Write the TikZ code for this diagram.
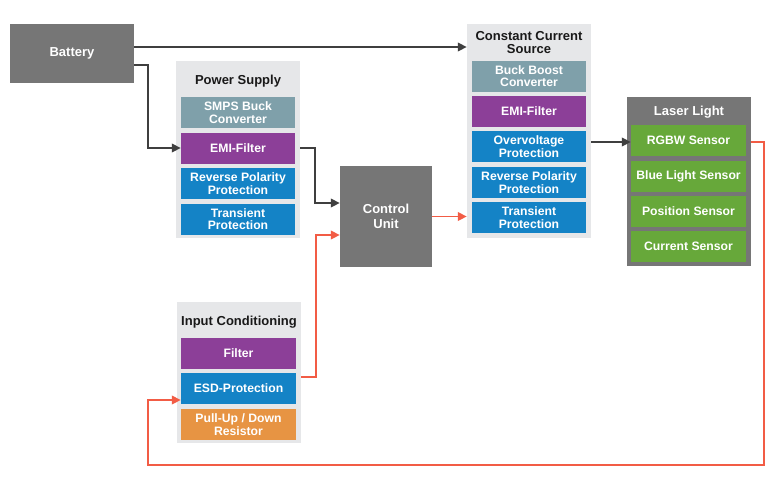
\documentclass[tikz,border=0pt]{standalone}
\usepackage{fontspec}
\setmainfont{Liberation Sans}
\usepackage{xcolor}
\usetikzlibrary{arrows.meta,positioning,calc}

\definecolor{boxgray}{HTML}{767676}
\definecolor{grpgray}{HTML}{E6E7E9}
\definecolor{steel}{HTML}{7FA0AA}
\definecolor{emipurple}{HTML}{8C3F98}
\definecolor{protblue}{HTML}{1483C6}
\definecolor{sensgreen}{HTML}{67A83A}
\definecolor{pullorange}{HTML}{E79443}
\definecolor{sigred}{HTML}{F25C45}
\definecolor{wiregray}{HTML}{3F3F3F}

\tikzset{
  blk/.style={fill=boxgray,text=white,inner sep=0pt,align=center,
    font=\bfseries\fontsize{13}{15}\selectfont},
  grp/.style={fill=grpgray,inner sep=0pt},
  grptitle/.style={font=\bfseries\fontsize{13}{13.5}\selectfont,text=black!90,align=center,inner sep=0pt},
  sub/.style={text=white,minimum width=114,minimum height=31,inner sep=0pt,align=center,
    font=\bfseries\fontsize{12.2}{12.5}\selectfont},
  pwr/.style={draw=wiregray,line width=1.8pt,-{Triangle[length=9pt,width=8.5pt]}},
  sig/.style={draw=sigred,line width=1.8pt,-{Triangle[length=9pt,width=8.5pt]}}
}

\begin{document}
\begin{tikzpicture}[x=1pt,y=-1pt]
\useasboundingbox[fill=white] (0,0) rectangle (773,490);
% main blocks
\node[blk,minimum width=124,minimum height=59] (bat) at (72,53.5) {Battery};
\node[blk,minimum width=92,minimum height=101] (cu) at (386,216.5) {Control\\Unit};
% power supply
\node[grp,minimum width=124,minimum height=177] (ps) at (238,149.5) {};
\node[grptitle] at (238,81) {Power Supply};
\node[sub,fill=steel] (ps1) at (238,112.5) {SMPS Buck\\Converter};
\node[sub,fill=emipurple] (ps2) at (238,148) {EMI-Filter};
\node[sub,fill=protblue] (ps3) at (238,183.5) {Reverse Polarity\\Protection};
\node[sub,fill=protblue] (ps4) at (238,219) {Transient\\Protection};
% constant current source
\node[grp,minimum width=124,minimum height=214] (ccs) at (529,131) {};
\node[grptitle] at (529,42.5) {Constant Current\\Source};
\node[sub,fill=steel] (ccs1) at (529,76) {Buck Boost\\Converter};
\node[sub,fill=emipurple] (ccs2) at (529,111.5) {EMI-Filter};
\node[sub,fill=protblue] (ccs3) at (529,146.5) {Overvoltage\\Protection};
\node[sub,fill=protblue] (ccs4) at (529,182.5) {Reverse Polarity\\Protection};
\node[sub,fill=protblue] (ccs5) at (529,217.5) {Transient\\Protection};
% laser light
\node[grp,fill=boxgray,minimum width=124,minimum height=169] (ll) at (689,181.5) {};
\node[grptitle,text=white] at (689,112) {Laser Light};
\node[sub,fill=sensgreen,minimum width=115] (ll1) at (688.5,140) {RGBW Sensor};
\node[sub,fill=sensgreen,minimum width=115] (ll2) at (688.5,176) {Blue Light Sensor};
\node[sub,fill=sensgreen,minimum width=115] (ll3) at (688.5,211) {Position Sensor};
\node[sub,fill=sensgreen,minimum width=115] (ll4) at (688.5,246) {Current Sensor};
% input conditioning
\node[grp,minimum width=124,minimum height=141] (ic) at (239,372.5) {};
\node[grptitle] at (239,322) {Input Conditioning};
\node[sub,fill=emipurple,minimum width=115] (ic1) at (238.5,353.5) {Filter};
\node[sub,fill=protblue,minimum width=115] (ic2) at (238.5,388.5) {ESD-Protection};
\node[sub,fill=pullorange,minimum width=115] (ic3) at (238.5,424.5) {Pull-Up / Down\\Resistor};
\coordinate (loop) at (148,465);

% supply wiring
\draw[pwr] ([yshift=6.5pt]bat.east) -- ([yshift=6.5pt]bat.east -| ccs.west);
\draw[pwr] ([yshift=-11.5pt]bat.east) -- ++(14,0) |- (ps2.west);
\draw[pwr] (ps.east |- ps2) -- ++(15,0) |- ([yshift=13.5pt]cu.west);
\draw[pwr] ([yshift=-11pt]ccs.east) -- ([yshift=-11pt]ccs.east -| ll1.west);
% signal wiring
\draw[sig] ([yshift=-4.5pt]ic.east) -- ++(15,0) |- ([yshift=-18.5pt]cu.west);
\draw[sig] (cu.east) -- (cu.east -| ccs.west);
\draw[sig] ([yshift=-2pt]ll.east |- ll1) -- ++(13,0) |- (loop) |- ([yshift=-11.5pt]ic2.west);
\end{tikzpicture}
\end{document}
